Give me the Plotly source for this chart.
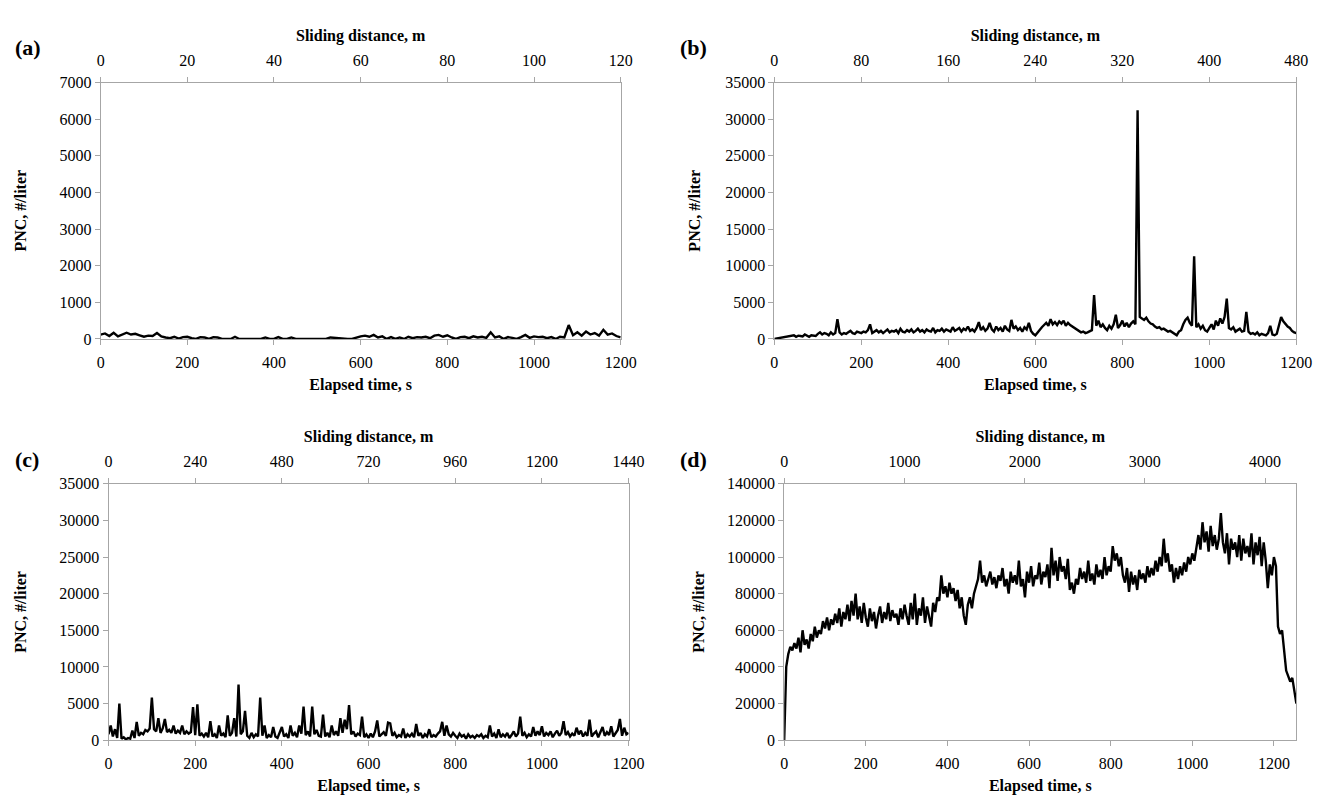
import plotly.graph_objects as go

# ---------------- data ----------------
time_a = list(range(0, 1201, 10))
pnc_a = [120, 150, 80, 170, 70, 110, 170, 120, 140, 100,
         60, 90, 80, 160, 70, 40, 20, 60, 10, 50,
         60, 20, 0, 50, 40, 0, 50, 40, 0, 0,
         0, 60, 0, 0, 0, 0, 0, 0, 40, 0,
         0, 50, 0, 0, 40, 0, 0, 0, 0, 0,
         0, 0, 0, 40, 30, 0, 0, 0, 0, 40,
         70, 90, 60, 110, 40, 70, 0, 50, 0, 40,
         0, 60, 20, 50, 40, 60, 20, 90, 110, 60,
         100, 40, 0, 50, 60, 20, 70, 40, 60, 30,
         180, 40, 70, 0, 50, 30, 0, 50, 110, 30,
         70, 50, 60, 20, 50, 0, 60, 40, 380, 100,
         180, 90, 200, 120, 160, 90, 250, 120, 150, 80,
         40]

time_b = list(range(0, 1201, 5))
pnc_b = [0, 50, 100, 150, 200, 300, 250, 400, 350, 500, 300, 450, 400, 350, 600, 400, 300, 500, 450, 400,
         700, 900, 600, 800, 700, 500, 900, 600, 800, 2700, 900, 600, 800, 700, 900, 1100, 800, 700, 1000, 900,
         800, 1000, 900, 1200, 2000, 800, 1000, 1200, 900, 1100, 800, 1000, 1300, 900, 1100, 1000, 1200, 800, 1400, 1000,
         900, 1200, 1000, 1300, 900, 1100, 1400, 1000, 1200, 900, 1300, 1100, 1000, 1500, 900, 1200, 1100, 1400, 1000, 1300,
         1200, 1000, 1600, 1100, 1300, 1500, 1000, 1400, 1200, 1700, 1100, 1300, 1000, 1500, 2300, 1200, 1600, 1100, 1400, 2200,
         1300, 1000, 1700, 1200, 1500, 1000, 1800, 1300, 1100, 2600, 1400, 1700, 1200, 1500, 1000, 1600, 1300, 2200, 1100, 700,
         500, 900, 1200, 1600, 1900, 2200, 1800, 2700, 2000, 2300, 1900, 2400, 2100, 2500, 1800, 2200, 1900, 1700, 1400, 1200,
         1100, 900, 1000, 800, 900, 1000, 1200, 6000, 1800, 2500, 1600, 2000, 1500, 1200, 1800, 1400, 2000, 3300, 1500, 1900,
         2500, 1700, 2200, 1600, 2100, 2400, 2000, 31200, 3000, 2800, 2600, 2900, 2400, 2100, 2000, 1700, 1500, 1600, 1300, 1400,
         1200, 1000, 1100, 900, 700, 500, 1000, 1200, 2000, 2600, 2900, 2200, 1800, 11300, 1600, 2000, 1400, 1800, 1200, 1000,
         1500, 2000, 1300, 2500, 1800, 2800, 2100, 3000, 5500, 1500, 1300, 1600, 1000, 1200, 1400, 1000, 1100, 3700, 1000, 700,
         800, 600, 900, 500, 700, 600, 500, 800, 1800, 600, 500, 700, 2000, 3000, 2400, 2000, 1700, 1500, 1100, 900,
         800]

time_c = list(range(0, 1201, 5))
pnc_c = [800, 2000, 500, 1500, 300, 5000, 200, 400, 100, 300, 200, 1300, 300, 2500, 600, 1000, 800, 1400, 1200, 1600,
         5800, 1500, 1200, 3000, 1000, 1600, 2900, 1100, 1400, 1000, 2000, 900, 1300, 1000, 2000, 800, 1200, 900, 1100, 4500,
         700, 4900, 600, 900, 500, 1000, 400, 2600, 500, 800, 300, 2000, 600, 900, 400, 3400, 600, 1000, 3000, 500,
         7600, 800, 1200, 4000, 600, 300, 1000, 400, 800, 500, 5800, 600, 2000, 300, 700, 400, 1800, 500, 300, 1000,
         1800, 500, 800, 300, 2000, 600, 1000, 400, 2000, 900, 4600, 700, 1200, 500, 4600, 800, 1400, 600, 500, 3500,
         500, 1000, 400, 2000, 700, 1200, 600, 3000, 1000, 2800, 1500, 4800, 800, 1200, 500, 900, 700, 3200, 400, 800,
         300, 900, 400, 1200, 2700, 500, 800, 1100, 600, 2400, 2300, 600, 1000, 400, 700, 500, 1600, 300, 800, 500,
         900, 400, 2200, 600, 1000, 300, 800, 500, 1500, 400, 700, 500, 900, 1200, 2500, 600, 2000, 800, 500, 1000,
         600, 300, 900, 500, 700, 200, 800, 400, 600, 300, 700, 500, 800, 300, 600, 400, 2000, 500, 900, 300,
         1500, 400, 800, 500, 1000, 300, 700, 1200, 500, 900, 3200, 600, 1000, 400, 800, 500, 1800, 600, 1200, 700,
         1900, 500, 1000, 700, 1200, 400, 900, 1300, 600, 1000, 2600, 700, 1100, 500, 900, 600, 1700, 800, 1300, 500,
         1000, 600, 2800, 500, 900, 1200, 400, 1000, 1800, 600, 1100, 700, 1900, 500, 1000, 1400, 2900, 600, 1700, 800,
         1000]

time_d = list(range(0, 1256, 5))
pnc_d = [0, 40000, 47000, 51000, 49000, 53000, 50000, 56000, 48000, 60000, 52000, 55000, 50000, 58000, 54000, 62000, 56000, 60000, 58000, 65000,
         61000, 67000, 60000, 66000, 63000, 69000, 64000, 72000, 62000, 70000, 66000, 74000, 65000, 76000, 68000, 80000, 66000, 73000, 64000, 75000,
         67000, 62000, 72000, 65000, 70000, 61000, 68000, 73000, 64000, 70000, 66000, 75000, 65000, 71000, 67000, 69000, 63000, 72000, 66000, 74000,
         68000, 63000, 75000, 66000, 80000, 63000, 72000, 68000, 78000, 64000, 73000, 67000, 62000, 75000, 70000, 78000, 76000, 90000, 80000, 84000,
         78000, 86000, 80000, 83000, 76000, 82000, 72000, 78000, 68000, 63000, 74000, 78000, 72000, 80000, 84000, 88000, 98000, 86000, 90000, 84000,
         88000, 92000, 85000, 89000, 83000, 90000, 87000, 94000, 84000, 88000, 80000, 92000, 86000, 90000, 85000, 98000, 84000, 88000, 78000, 92000,
         86000, 95000, 84000, 90000, 88000, 97000, 85000, 92000, 89000, 96000, 83000, 105000, 90000, 98000, 87000, 100000, 92000, 95000, 88000, 99000,
         82000, 86000, 80000, 88000, 85000, 94000, 88000, 92000, 86000, 98000, 87000, 91000, 85000, 96000, 89000, 93000, 88000, 100000, 90000, 95000,
         92000, 106000, 98000, 102000, 95000, 100000, 90000, 86000, 94000, 81000, 92000, 85000, 90000, 82000, 93000, 88000, 91000, 86000, 95000, 89000,
         94000, 90000, 98000, 92000, 100000, 95000, 110000, 97000, 102000, 92000, 96000, 86000, 94000, 88000, 95000, 90000, 97000, 92000, 100000, 96000,
         102000, 98000, 105000, 112000, 104000, 119000, 108000, 114000, 103000, 117000, 106000, 112000, 104000, 110000, 124000, 108000, 102000, 113000, 96000, 110000,
         104000, 108000, 100000, 112000, 98000, 110000, 102000, 106000, 100000, 113000, 96000, 108000, 101000, 111000, 95000, 108000, 98000, 83000, 96000, 90000,
         100000, 95000, 62000, 58000, 60000, 48000, 38000, 35000, 32000, 34000, 28000, 20000]

panel_labels = ["(a)", "(b)", "(c)", "(d)"]
time_ranges = [1200, 1200, 1200, 1255]
dist_ranges = [120, 480, 1440, 4260]
dist_dticks = [20, 80, 240, 1000]
pnc_ranges = [7000, 35000, 35000, 140000]
pnc_dticks = [1000, 5000, 5000, 20000]

# ---------------- layout geometry ----------------
W, H = 1328, 795
FONT = "Liberation Serif"
AXC = "#a6a6a6"
x_dom = [(90 / W, 618 / W), (774 / W, 1304 / W), (98 / W, 626 / W), (784 / W, 1304 / W)]
y_dom = [(1 - 330 / H, 1 - 68 / H), (1 - 330 / H, 1 - 68 / H),
         (1 - 740 / H, 1 - 478 / H), (1 - 740 / H, 1 - 478 / H)]
ytitle_standoff = [28, 20, 28, 18]

fig = go.Figure()
series = [(time_a, pnc_a), (time_b, pnc_b), (time_c, pnc_c), (time_d, pnc_d)]
layout = {}
for i, (tx, ty) in enumerate(series):
    xb = 2 * i + 1
    xt = 2 * i + 2
    yi = i + 1
    xb_name = "x" if xb == 1 else f"x{xb}"
    xt_name = f"x{xt}"
    y_name = "y" if yi == 1 else f"y{yi}"
    fig.add_trace(go.Scatter(x=tx, y=ty, mode="lines",
                             line=dict(color="black", width=2.4),
                             xaxis=xb_name, yaxis=y_name, showlegend=False,
                             name=panel_labels[i]))
    # empty trace so that the top (sliding distance) axis is drawn
    fig.add_trace(go.Scatter(x=[], y=[], mode="lines", xaxis=xt_name, yaxis=y_name,
                             showlegend=False, hoverinfo="skip"))
    common = dict(showline=True, linecolor=AXC, linewidth=1, ticks="outside",
                  ticklen=5, tickcolor=AXC, showgrid=False, zeroline=False,
                  tickfont=dict(family=FONT, size=16, color="black"),
                  tickformat="d")
    layout["xaxis" if xb == 1 else f"xaxis{xb}"] = dict(
        common, domain=list(x_dom[i]), anchor=y_name, range=[0, time_ranges[i]],
        tick0=0, dtick=200, ticklabelstandoff=4,
        title=dict(text="<b>Elapsed time, s</b>", standoff=8,
                   font=dict(family=FONT, size=16, color="black")))
    layout[f"xaxis{xt}"] = dict(
        common, domain=list(x_dom[i]), anchor=y_name, overlaying=xb_name, side="top",
        range=[0, dist_ranges[i]], tick0=0, dtick=dist_dticks[i], ticklabelstandoff=4,
        title=dict(text="<b>Sliding distance, m</b>", standoff=6,
                   font=dict(family=FONT, size=16, color="black")))
    layout["yaxis" if yi == 1 else f"yaxis{yi}"] = dict(
        common, domain=list(y_dom[i]), anchor=xb_name, range=[0, pnc_ranges[i]],
        tick0=0, dtick=pnc_dticks[i], mirror=True,
        title=dict(text="<b>PNC, #/liter</b>", standoff=ytitle_standoff[i],
                   font=dict(family=FONT, size=16, color="black")))

label_pos = [(1 / W, 1 - 32 / H), (676 / W, 1 - 32 / H), (1 / W, 1 - 453 / H), (676 / W, 1 - 453 / H)]
annotations = []
for lab, (ax_, ay_) in zip(panel_labels, label_pos):
    annotations.append(dict(text=f"<b>{lab}</b>", x=ax_, y=ay_, xref="paper", yref="paper",
                            xanchor="left", yanchor="middle", showarrow=False,
                            font=dict(family=FONT, size=22, color="black")))

fig.update_layout(width=W, height=H, margin=dict(l=0, r=0, t=0, b=0),
                  paper_bgcolor="white", plot_bgcolor="white",
                  font=dict(family=FONT, size=16, color="black"),
                  annotations=annotations, **layout)

fig.write_html("out.html")
